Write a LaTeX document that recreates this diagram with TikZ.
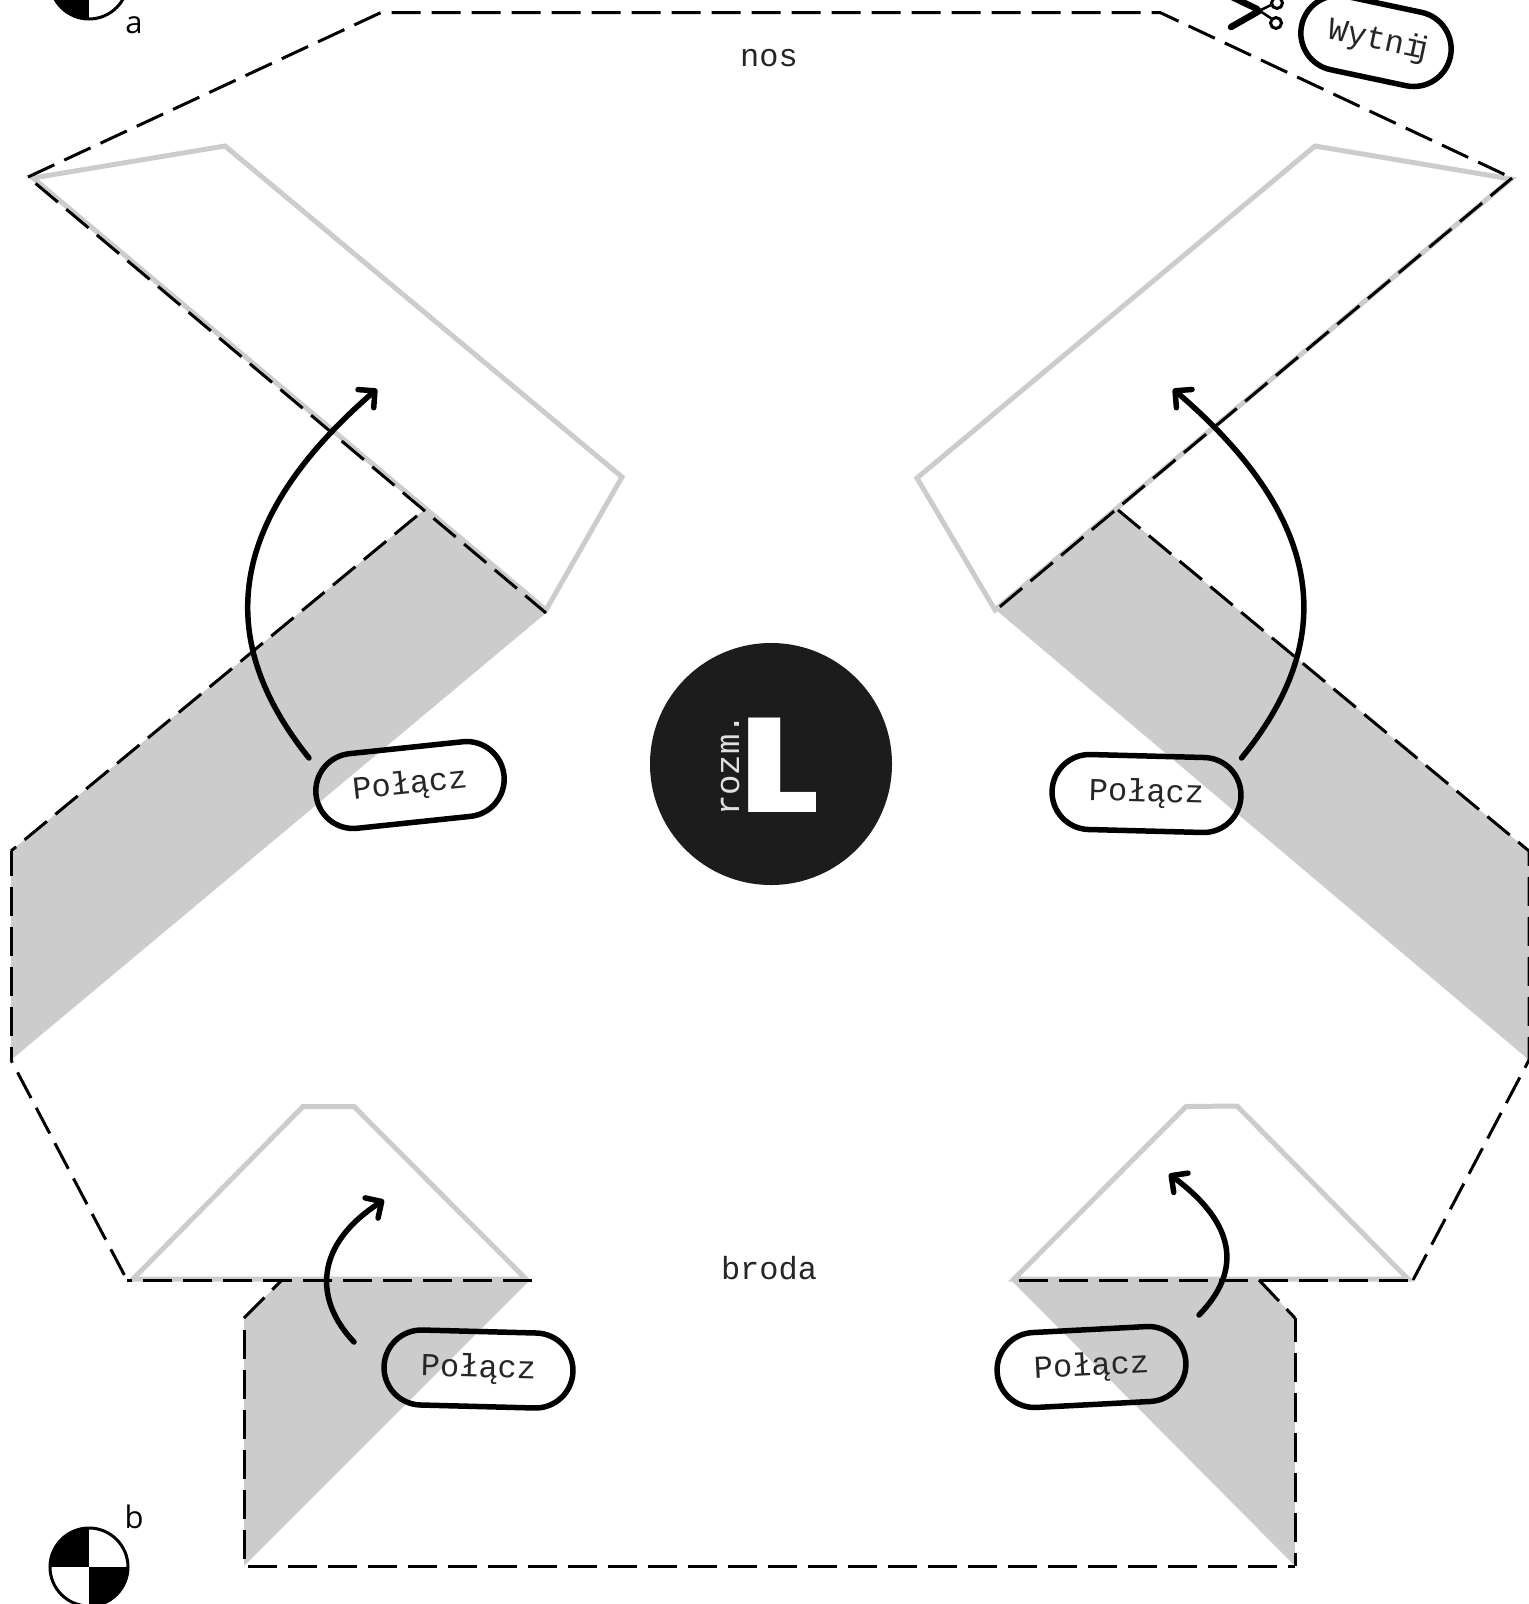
\documentclass[tikz,border=0pt]{standalone}
\usepackage{fontspec}
\setmainfont{Open Sans}
\newfontfamily\monofam{Liberation Mono}
\newfontfamily\heavyfam[UprightFont=* ExtraBold,FakeStretch=1.22]{Poppins}
\usetikzlibrary{arrows.meta}
\definecolor{bandgray}{HTML}{CCCCCC}
\definecolor{badge}{HTML}{1C1C1C}
\tikzset{
  x=1pt,y=-1pt,
  flapline/.style={draw=bandgray,line width=5pt,line join=miter},
  cutline/.style={draw=black,line width=3pt,dash pattern=on 29pt off 11pt},
  pill/.style={draw=black,line width=5.5pt,rectangle,rounded corners=37.5pt,minimum width=189pt,minimum height=75pt,inner sep=0pt,text=black!85,font=\monofam\fontsize{32}{32}\selectfont},
  foldarrow/.style={draw=black,line width=5.5pt,line cap=round,-{Straight Barb[round,length=12pt,width=24pt,line width=5.5pt]}},
  plainlabel/.style={inner sep=0pt,text=black!85,font=\monofam\fontsize{32}{32}\selectfont},
  sidelabel/.style={inner sep=0pt,font=\fontsize{31}{31}\selectfont},
  target/.style={draw=black,line width=3pt}
}
\begin{document}
\begin{tikzpicture}
\useasboundingbox (0,0) rectangle (1529,1604);
\clip (0,0) rectangle (1529,1604);
% grey bands
\fill[bandgray] (424,510) -- (546,613) -- (11,1060) -- (11,851) -- cycle;
\fill[bandgray] (1118,510) -- (996,610) -- (1529,1060) -- (1529,851) -- cycle;
\fill[bandgray] (282,1280) -- (530,1280) -- (244,1566) -- (244,1318) -- cycle;
\fill[bandgray] (1011,1280) -- (1259,1280) -- (1295,1318) -- (1295,1566) -- cycle;
% flaps
\draw[flapline] (33,178) -- (225,146) -- (622,477) -- (546,610) -- cycle;
\draw[flapline] (1511,179) -- (1315,146) -- (917,478) -- (995,610) -- cycle;
\draw[flapline] (133,1279) -- (303,1106.5) -- (354,1106.5) -- (526,1279) -- cycle;
\draw[flapline] (1014,1279) -- (1186,1106.5) -- (1237,1106) -- (1408,1279) -- cycle;
% cut lines
\draw[cutline] (28,177) -- (381,12.5) -- (1160,12.5) -- (1512,178);
\draw[cutline,dash phase=30pt] (28,177) -- (546,613);
\draw[cutline,dash phase=35pt] (996,610) -- (1512,178);
\draw[cutline,dash phase=31pt] (424,510) -- (11,851);
\draw[cutline,dash phase=16pt] (11,1060) -- (11,851);
\draw[cutline,dash phase=26pt] (11,1060) -- (127,1280);
\draw[cutline] (532,1280) -- (127,1280);
\draw[cutline] (1118,510) -- (1529,851) -- (1529,1060);
\draw[cutline] (1413,1280) -- (1529,1060);
\draw[cutline] (1019,1280) -- (1413,1280);
\draw[cutline] (244,1318) -- (282,1280);
\draw[cutline] (244,1330) -- (244,1566) -- (1295,1566);
\draw[cutline] (1259,1280) -- (1295,1318);
\draw[cutline,dash phase=5pt] (1295,1318) -- (1295,1566);
% badge
\fill[badge] (771,764) circle (121);
\node[anchor=base west,inner sep=0pt,text=white,font=\heavyfam\fontsize{134}{134}\selectfont] (sizeL) at (739,812) {L};
\node[anchor=base west,inner sep=0pt,text=white!88!black,rotate=90,font=\monofam\fontsize{34}{34}\selectfont] (sizeword) at (739,816) {rozm.};
% labels
\node[plainlabel] (nos) at (769,58) {nos};
\node[plainlabel] (broda) at (769,1268) {broda};
\node[sidelabel] (labela) at (134,25) {a};
\node[sidelabel] (labelb) at (134,1517) {b};
% targets
\begin{scope}
  \clip (89,-20) circle (39);
  \fill (50,-20) rectangle (89,19);
\end{scope}
\draw[target] (89,-20) circle (39);
\begin{scope}
  \clip (89,1567) circle (39);
  \fill (50,1528) rectangle (89,1567);
  \fill (89,1567) rectangle (128,1606);
\end{scope}
\draw[target] (89,1567) circle (39);
% scissors
\draw[line width=6.5pt,line cap=round] (1231,27) -- (1259,11);
\draw[line width=2.5pt] (1259,11) -- (1273,4);
\draw[line width=6.5pt,line cap=round] (1228,-5) -- (1257,9);
\draw[line width=2.5pt] (1257,9) -- (1272,19);
\draw[line width=3pt] (1277,3) circle (5.5);
\draw[line width=3pt] (1276,23) circle (5.5);
% pills
\node[pill,rotate=6] (p1) at (410,785) {Połącz};
\node[pill,rotate=-1.5] (p2) at (1146.5,793.5) {Połącz};
\node[pill,rotate=-1.5] (p3) at (478.5,1369) {Połącz};
\node[pill,rotate=3] (p4) at (1091.5,1367) {Połącz};
\node[pill,rotate=-12,minimum width=152pt] (p5) at (1376,41) {\kern7pt Wytni\kern-11pt j};
% arrows
\coordinate (a1s) at (309,758); \coordinate (a1e) at (377,389);
\coordinate (a2s) at (1241.5,758); \coordinate (a2e) at (1173,389);
\coordinate (a3s) at (354,1342); \coordinate (a3e) at (384,1200);
\coordinate (a4s) at (1199,1315); \coordinate (a4e) at (1169,1174);
\draw[foldarrow] (a1s) .. controls (224,652) and (212,532) .. (a1e);
\draw[foldarrow] (a2s) .. controls (1328,652) and (1340,532) .. (a2e);
\draw[foldarrow] (a3s) .. controls (314,1300) and (314,1245) .. (a3e);
\draw[foldarrow] (a4s) .. controls (1241,1272) and (1238,1225) .. (a4e);
\end{tikzpicture}
\end{document}
